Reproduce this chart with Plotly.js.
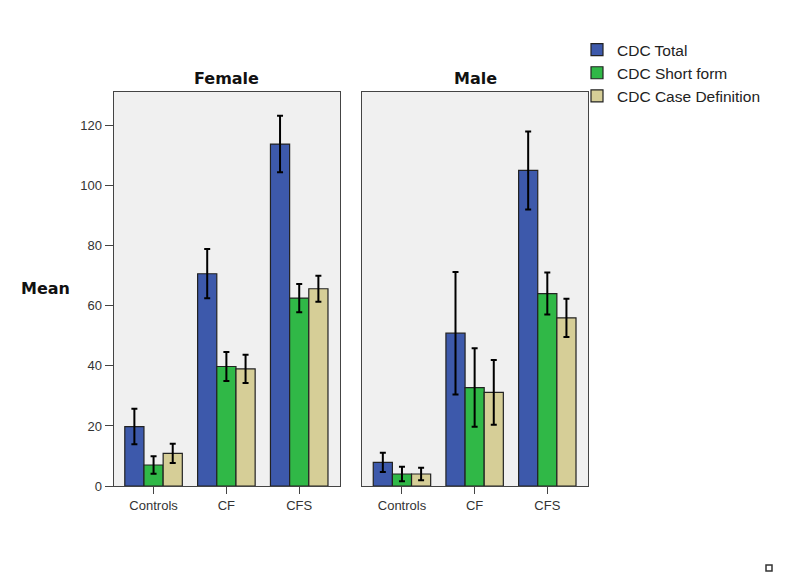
<!DOCTYPE html>
<html>
<head>
<meta charset="utf-8">
<script src="https://cdn.plot.ly/plotly-3.0.1.min.js"></script>
<style>
  body { margin: 0; background: #fff; }
  #myDiv { width: 785px; height: 588px; }
</style>
</head>
<body>
<div id="myDiv"></div>
<script>
// categories on the x axis
var groups = ['Controls', 'CF', 'CFS'];
var seriesNames = ['CDC Total', 'CDC Short form', 'CDC Case Definition'];
var seriesColors = ['#3d59ab', '#30b847', '#d6ce97'];

// Female panel: means and error half-widths
var femaleTotal = [19.8, 70.7, 113.9];
var femaleTotalErr = [5.9, 8.2, 9.4];
var femaleShort = [7.0, 39.8, 62.6];
var femaleShortErr = [2.9, 4.8, 4.7];
var femaleCase = [10.9, 39.0, 65.7];
var femaleCaseErr = [3.2, 4.7, 4.3];

// Male panel
var maleTotal = [7.9, 50.9, 105.1];
var maleTotalErr = [3.2, 20.4, 13.0];
var maleShort = [4.0, 32.8, 64.1];
var maleShortErr = [2.4, 13.1, 7.0];
var maleCase = [4.0, 31.2, 56.0];
var maleCaseErr = [2.1, 10.8, 6.4];

var yTicks = [0, 20, 40, 60, 80, 100, 120];

var W = 785, H = 588;

function makeBar(name, color, vals, errs, xa, ya, showLeg){
    return {
        type: 'bar',
        name: name,
        x: groups,
        y: vals,
        xaxis: xa,
        yaxis: ya,
        legendgroup: name,
        showlegend: showLeg,
        marker: {color: color, line: {color: '#222', width: 1.2}},
        error_y: {type: 'data', array: errs, visible: true, color: '#000', thickness: 2, width: 3},
        hoverinfo: 'y'
    };
}

var femaleVals = [[femaleTotal, femaleTotalErr], [femaleShort, femaleShortErr], [femaleCase, femaleCaseErr]];
var maleVals = [[maleTotal, maleTotalErr], [maleShort, maleShortErr], [maleCase, maleCaseErr]];

var data = [];
for (var s = 0; s < 3; s++){
    data.push(makeBar(seriesNames[s], seriesColors[s], femaleVals[s][0], femaleVals[s][1], 'x', 'y', true));
}
for (var s = 0; s < 3; s++){
    data.push(makeBar(seriesNames[s], seriesColors[s], maleVals[s][0], maleVals[s][1], 'x2', 'y2', false));
}

var tickFont = {family: 'Liberation Sans, Arial, sans-serif', size: 13, color: '#333'};
var titleFont = {family: 'DejaVu Sans, sans-serif', size: 16, color: '#111'};
var yBottom = 1 - 486 / H, yTop = 1 - 91.5 / H;

var xBase = {
    type: 'category',
    range: [-0.55, 2.56],
    showline: true, linecolor: '#444', linewidth: 1,
    mirror: true,
    ticks: 'outside', ticklen: 7, tickcolor: '#444',
    tickfont: tickFont,
    showgrid: false, zeroline: false,
    fixedrange: true
};

var layout = {
    autosize: false,
    width: W,
    height: H,
    margin: {l: 0, r: 0, t: 0, b: 0},
    paper_bgcolor: '#fff',
    plot_bgcolor: '#f0f0f0',
    barmode: 'group',
    bargap: 0.21,
    bargroupgap: 0,
    showlegend: true,
    legend: {
        x: 577 / W, xanchor: 'left',
        y: 1 - 33 / H, yanchor: 'top',
        font: {family: 'Liberation Sans, Arial, sans-serif', size: 15.5, color: '#222'},
        bgcolor: 'rgba(0,0,0,0)',
        tracegroupgap: 0
    },
    xaxis: Object.assign({}, xBase, {domain: [113.5 / W, 340 / W], anchor: 'y'}),
    xaxis2: Object.assign({}, xBase, {domain: [362 / W, 588 / W], anchor: 'y2'}),
    yaxis: {
        domain: [yBottom, yTop],
        range: [0, 131.4],
        tickvals: yTicks,
        ticks: 'outside', ticklen: 8, tickcolor: '#444',
        tickfont: tickFont,
        showline: true, linecolor: '#444', linewidth: 1,
        mirror: true,
        showgrid: false, zeroline: false,
        anchor: 'x',
        fixedrange: true
    },
    yaxis2: {
        domain: [yBottom, yTop],
        range: [0, 131.4],
        showticklabels: false,
        ticks: '',
        showline: true, linecolor: '#444', linewidth: 1,
        mirror: true,
        showgrid: false, zeroline: false,
        anchor: 'x2',
        fixedrange: true
    },
    annotations: [
        {text: '<b>Female</b>', xref: 'paper', yref: 'paper', x: 226.7 / W, y: 1 - 78 / H,
         xanchor: 'center', yanchor: 'middle', showarrow: false, font: titleFont},
        {text: '<b>Male</b>', xref: 'paper', yref: 'paper', x: 475 / W, y: 1 - 78 / H,
         xanchor: 'center', yanchor: 'middle', showarrow: false, font: titleFont},
        {text: '<b>Mean</b>', xref: 'paper', yref: 'paper', x: 45 / W, y: 1 - 289 / H,
         xanchor: 'center', yanchor: 'middle', showarrow: false, font: titleFont}
    ],
    shapes: [
        // small marker square at the bottom right corner
        {type: 'rect', xref: 'paper', yref: 'paper',
         x0: 766 / W, x1: 772 / W, y0: 1 - 571 / H, y1: 1 - 565 / H,
         line: {color: '#333', width: 1.5}, fillcolor: '#fff'}
    ]
};

Plotly.newPlot('myDiv', data, layout, {displayModeBar: false, staticPlot: true});
</script>
</body>
</html>
